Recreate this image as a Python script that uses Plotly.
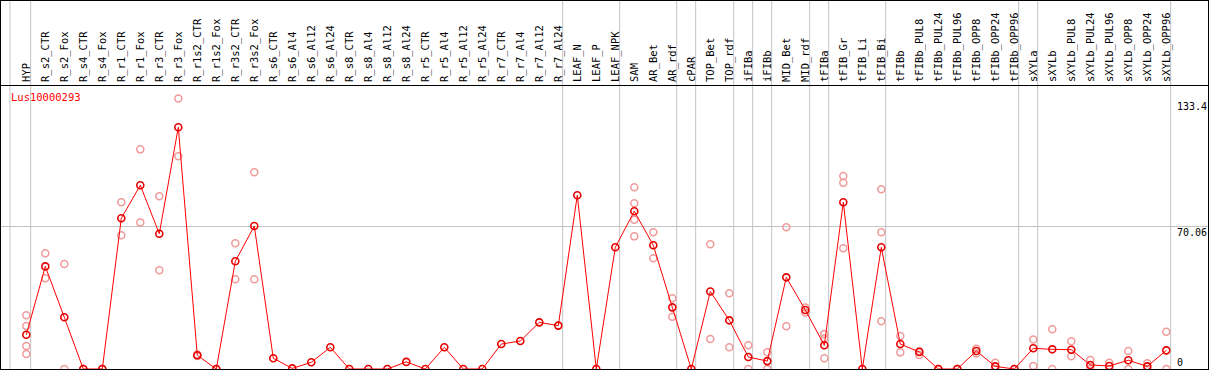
import plotly.graph_objects as go

categories = [
    "HYP", "R_s2_CTR", "R_s2_Fox", "R_s4_CTR", "R_s4_Fox", "R_r1_CTR", "R_r1_Fox",
    "R_r3_CTR", "R_r3_Fox", "R_r1s2_CTR", "R_r1s2_Fox", "R_r3s2_CTR", "R_r3s2_Fox",
    "R_s6_CTR", "R_s6_Al4", "R_s6_Al12", "R_s6_Al24", "R_s8_CTR", "R_s8_Al4",
    "R_s8_Al12", "R_s8_Al24", "R_r5_CTR", "R_r5_Al4", "R_r5_Al12", "R_r5_Al24",
    "R_r7_CTR", "R_r7_Al4", "R_r7_Al12", "R_r7_Al24", "LEAF_N", "LEAF_P", "LEAF_NPK",
    "SAM", "AR_Bet", "AR_rdf", "cPAR", "TOP_Bet", "TOP_rdf", "iFIBa", "iFIBb",
    "MID_Bet", "MID_rdf", "tFIBa", "tFIB_Gr", "tFIB_Li", "tFIB_Bi", "tFIBb",
    "tFIBb_PUL8", "tFIBb_PUL24", "tFIBb_PUL96", "tFIBb_OPP8", "tFIBb_OPP24",
    "tFIBb_OPP96", "sXYLa", "sXYLb", "sXYLb_PUL8", "sXYLb_PUL24", "sXYLb_PUL96",
    "sXYLb_OPP8", "sXYLb_OPP24", "sXYLb_OPP96",
]

# group sizes (vertical separators drawn after each group)
group_sizes = [1, 28, 3, 3, 1, 2, 1, 1, 2, 1, 3, 7, 1, 7]

mean_values = [
    16.9, 50.6, 25.5, 0, 0, 74.3, 90.6, 66.7, 119.2, 6.8, 0, 53.1, 70.5,
    5.3, 0.3, 3.3, 10.7, 0, 0, 0, 3.5, 0, 10.7, 0, 0, 12.3, 13.8, 23.0, 21.4,
    85.7, 0, 60.0, 77.8, 61.0, 30.4, 0, 38.2, 24.0, 5.9, 3.9, 45.2, 29.1,
    11.7, 82.2, 0, 60.0, 12.3, 8.4, 0, 0, 8.9, 1.3, 0, 10.2, 9.7, 9.5, 2.0,
    1.5, 4.3, 1.3, 9.2,
]

N = None
rep_a = [
    26.5, 57.1, 51.8, 0, 0, 82.2, 108.3, 85.2, 133.4, 7.1, 0, 62.0, 97.0,
    N, N, N, N, N, N, N, N, N, N, N, N, N, N, N, N,
    N, N, N, 89.6, 67.4, 34.9, N, 61.5, 37.4, 11.7, 8.3, 69.9, 30.3,
    17.3, 95.2, N, 88.6, 16.3, 8.9, 0, 0, 10.0, 3.1, 0, 14.6, 19.6, 13.7, 4.4,
    3.1, 8.9, 2.8, 18.4,
]
rep_b = [
    21.2, 44.7, 0, 0, 0, 65.9, 72.3, 48.7, 104.9, 6.4, 0, 44.2, 44.2,
    N, N, N, N, N, N, N, N, N, N, N, N, N, N, N, N,
    N, N, N, 81.7, 54.6, 25.8, N, 14.8, 10.7, 0, 0, 21.1, 27.9,
    15.1, 91.9, N, 67.4, 8.2, 6.9, 0, 0, 7.7, 0, 0, 1.5, 0, 6.3, 0,
    0, 0, 0, 0,
]
rep_c = [
    11.3, N, N, N, N, N, N, N, N, N, N, N, N,
    N, N, N, N, N, N, N, N, N, N, N, N, N, N, N, N,
    N, N, N, 73.6, N, N, N, N, N, N, N, N, N,
    5.3, 59.5, N, 23.5, N, N, N, N, N, N, N, N, N, N, N,
    N, N, N, N,
]
rep_d = [
    7.4, N, N, N, N, N, N, N, N, N, N, N, N,
    N, N, N, N, N, N, N, N, N, N, N, N, N, N, N, N,
    N, N, N, 65.4, N, N, N, N, N, N, N, N, N,
    N, N, N, N, N, N, N, N, N, N, N, N, N, N, N,
    N, N, N, N,
]

y_tick_values = [133.4, 70.06, 0]
y_tick_labels = ["133.4", "70.06", "0"]
gene_name = "Lus10000293"

# ---------------- layout geometry ----------------
W, H = 1209, 370
ML, MR, MT, MB = 0, 1, 85, 1
PW, PH = W - ML - MR, H - MT - MB
px_per_cat = 19.0
first_cat_px = 26.3
x_lo = -first_cat_px / px_per_cat
x_hi = x_lo + PW / px_per_cat
px_per_unit = 2.028
y_hi = PH / px_per_unit
top_paper = 1 + MT / PH

FONT = "DejaVu Sans Mono"
GRID = "#c4c4c4"

fig = go.Figure()

rep_x, rep_y = [], []
for reps in (rep_a, rep_b, rep_c, rep_d):
    for c, v in zip(categories, reps):
        if v is not None:
            rep_x.append(c)
            rep_y.append(v)

fig.add_trace(go.Scatter(
    x=rep_x, y=rep_y, mode="markers",
    marker=dict(symbol="circle-open", size=7, color="#f09a9a",
                line=dict(width=1.5, color="#f09a9a")),
    showlegend=False, hoverinfo="skip",
))
fig.add_trace(go.Scatter(
    x=categories, y=mean_values, mode="lines+markers",
    line=dict(color="#ff0000", width=1),
    marker=dict(symbol="circle-open", size=7, color="#e60000",
                line=dict(width=1.6, color="#e60000")),
    showlegend=False,
))

shapes = []
# group separators
boundaries = [-0.86]
idx = -1
for g in group_sizes:
    idx += g
    boundaries.append(idx + 0.23)
for b in boundaries:
    shapes.append(dict(type="line", xref="x", yref="paper", x0=b, x1=b,
                       y0=0, y1=top_paper, line=dict(color=GRID, width=1),
                       layer="below"))

def px_x(p):
    return (p - ML) / PW

def px_y(p):
    return (MT + PH - p) / PH

border = dict(color="black", width=1)
shapes += [
    dict(type="line", xref="paper", yref="paper", x0=px_x(0.5), x1=px_x(0.5),
         y0=px_y(370), y1=px_y(0), line=border),
    dict(type="line", xref="paper", yref="paper", x0=px_x(1208.5), x1=px_x(1208.5),
         y0=px_y(370), y1=px_y(0), line=border),
    dict(type="line", xref="paper", yref="paper", x0=px_x(0), x1=px_x(1209),
         y0=px_y(0.5), y1=px_y(0.5), line=border),
    dict(type="line", xref="paper", yref="paper", x0=px_x(0), x1=px_x(1209),
         y0=px_y(85.5), y1=px_y(85.5), line=border),
    dict(type="line", xref="paper", yref="paper", x0=px_x(0), x1=px_x(1209),
         y0=px_y(369.5), y1=px_y(369.5), line=border),
]

annotations = [dict(
    text=gene_name, xref="paper", yref="paper", x=px_x(9), y=px_y(97),
    xanchor="left", yanchor="middle", showarrow=False,
    font=dict(family=FONT, size=10.5, color="#ff0000"),
)]
label_shift = [-8, -5.5, 7]
for v, t, s in zip(y_tick_values, y_tick_labels, label_shift):
    annotations.append(dict(
        text=t, xref="paper", yref="y", x=px_x(1175.5), y=v, yshift=s,
        xanchor="left", yanchor="middle", showarrow=False, borderpad=0,
        font=dict(family=FONT, size=10, color="black"),
    ))

fig.update_layout(
    width=W, height=H,
    margin=dict(l=ML, r=MR, t=MT, b=MB, pad=0),
    paper_bgcolor="white", plot_bgcolor="white",
    shapes=shapes, annotations=annotations,
    xaxis=dict(
        type="category", categoryorder="array", categoryarray=categories,
        range=[x_lo, x_hi], side="top", tickangle=-90,
        showgrid=False, zeroline=False, showline=False, ticks="",
        tickfont=dict(family=FONT, size=10.5, color="black"),
        automargin=False, fixedrange=True, ticklabelstandoff=2,
    ),
    yaxis=dict(
        range=[0, y_hi], tickvals=[y_tick_values[1]], showticklabels=False,
        showgrid=True, gridcolor=GRID, gridwidth=1, zeroline=False,
        showline=False, ticks="", automargin=False, fixedrange=True,
    ),
)

fig.write_html(
    "out.html",
    config={"staticPlot": True},
    post_script="document.body.style.margin='0';document.body.style.padding='0';",
)
